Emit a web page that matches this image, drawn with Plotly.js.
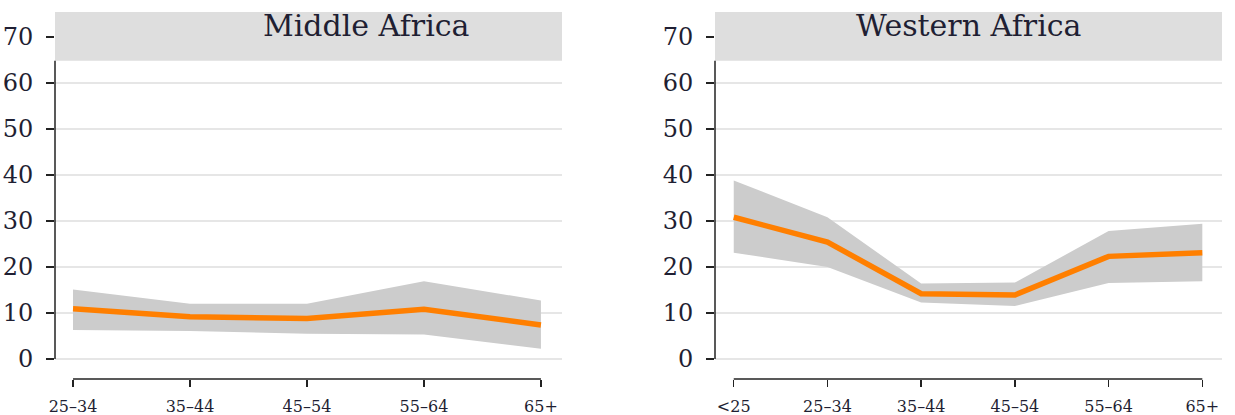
<!DOCTYPE html>
<html>
<head>
<meta charset="utf-8">
<script src="https://cdn.plot.ly/plotly-3.0.1.min.js"></script>
<style>
  html, body { margin: 0; padding: 0; background: #fff; }
  #chart { width: 1235px; height: 415px; }
</style>
</head>
<body>
<div id="chart"></div>
<script>
// ---- data ----
const middleTitle = "Middle Africa";
const middleCats  = ["25–34", "35–44", "45–54", "55–64", "65+"];
const middleMean  = [10.9, 9.2, 8.8, 10.8, 7.4];
const middleUpper = [15.1, 12.0, 12.0, 16.9, 12.7];
const middleLower = [6.3, 6.1, 5.5, 5.3, 2.2];

const westTitle = "Western Africa";
const westCats  = ["<25", "25–34", "35–44", "45–54", "55–64", "65+"];
const westMean  = [30.8, 25.4, 14.2, 13.9, 22.3, 23.1];
const westUpper = [38.8, 30.8, 16.4, 16.6, 27.8, 29.4];
const westLower = [23.1, 20.0, 12.3, 11.5, 16.5, 16.9];

const yTicks = [0, 10, 20, 30, 40, 50, 60, 70];

// ---- style ----
const FONT = "DejaVu Serif, serif";
const TXT = "#1f1f33";
const ORANGE = "#ff7f00";
const BAND = "#cccccc";
const W = 1235, H = 415;

function bandTrace(cats, up, lo, xa, ya) {
  return {
    type: "scatter", mode: "lines",
    x: cats.concat(cats.slice().reverse()),
    y: up.concat(lo.slice().reverse()),
    fill: "toself", fillcolor: BAND,
    line: { width: 0, color: BAND },
    xaxis: xa, yaxis: ya, hoverinfo: "skip", showlegend: false
  };
}
function lineTrace(cats, m, xa, ya) {
  return {
    type: "scatter", mode: "lines",
    x: cats, y: m,
    line: { color: ORANGE, width: 5.5 },
    xaxis: xa, yaxis: ya, showlegend: false
  };
}

const traces = [
  bandTrace(middleCats, middleUpper, middleLower, "x", "y"),
  lineTrace(middleCats, middleMean, "x", "y"),
  bandTrace(westCats, westUpper, westLower, "x2", "y2"),
  lineTrace(westCats, westMean, "x2", "y2")
];

// y pixel: 0 -> 359, 10 units ~ 46 px ; panel bottom at 379, strip top at 12
const yRange = [-4.35, 75.4];
const stripBottom = 64.8;
const yDomain = [1 - 379 / H, 1 - 12 / H];

function xAxis(cats, domain, anchor, pad) {
  return {
    domain: domain, anchor: anchor,
    type: "category", categoryorder: "array", categoryarray: cats,
    range: [-pad[0], cats.length - 1 + pad[1]],
    showgrid: false, zeroline: false, showline: false,
    ticks: "outside", ticklen: 7, tickwidth: 1.5, tickcolor: "#222",
    ticklabelstandoff: 6,
    tickfont: { family: FONT, size: 16, color: TXT },
    fixedrange: true
  };
}
function yAxis(domain, anchor) {
  return {
    domain: domain, anchor: anchor, range: yRange,
    tickvals: yTicks, ticktext: yTicks.map(String),
    showgrid: true, gridcolor: "#e6e6e6", gridwidth: 1.5,
    zeroline: false, showline: false,
    ticks: "outside", ticklen: 8, tickwidth: 1.5, tickcolor: "#222",
    ticklabelstandoff: 8,
    tickfont: { family: FONT, size: 24, color: TXT },
    fixedrange: true
  };
}

const dom1 = [55 / W, 562 / W];
const dom2 = [715 / W, 1222 / W];

function panelShapes(xa, ya, cats) {
  const xd = xa + " domain";
  return [
    // strip
    { type: "rect", layer: "above", xref: xd, yref: ya, x0: 0, x1: 1, y0: stripBottom, y1: yRange[1],
      fillcolor: "#dedede", line: { width: 0 } },
    // y axis line (0 to panel top)
    { type: "line", layer: "above", xref: xd, yref: ya, x0: 0, x1: 0, y0: 0, y1: stripBottom,
      line: { color: "#222", width: 1.5 } },
    // x axis line between first and last category
    { type: "line", layer: "above", xref: xa, yref: ya + " domain", x0: cats[0], x1: cats[cats.length - 1], y0: 0, y1: 0,
      line: { color: "#222", width: 1.5 } }
  ];
}

const titleY = 72.4;
const layout = {
  width: W, height: H,
  margin: { l: 0, r: 0, t: 0, b: 0 },
  paper_bgcolor: "#fff", plot_bgcolor: "#fff",
  showlegend: false,
  xaxis: xAxis(middleCats, dom1, "y", [0.154, 0.18]),
  yaxis: yAxis(yDomain, "x"),
  xaxis2: xAxis(westCats, dom2, "y2", [0.2, 0.21]),
  yaxis2: yAxis(yDomain, "x2"),
  shapes: panelShapes("x", "y", middleCats).concat(panelShapes("x2", "y2", westCats)),
  annotations: [
    { text: middleTitle, xref: "x domain", yref: "y", x: 0.615, y: titleY,
      showarrow: false, xanchor: "center", yanchor: "middle",
      font: { family: FONT, size: 30, color: TXT } },
    { text: westTitle, xref: "x2 domain", yref: "y2", x: 0.5, y: titleY,
      showarrow: false, xanchor: "center", yanchor: "middle",
      font: { family: FONT, size: 30, color: TXT } }
  ]
};

Plotly.newPlot("chart", traces, layout, { displayModeBar: false, staticPlot: true });
</script>
</body>
</html>
